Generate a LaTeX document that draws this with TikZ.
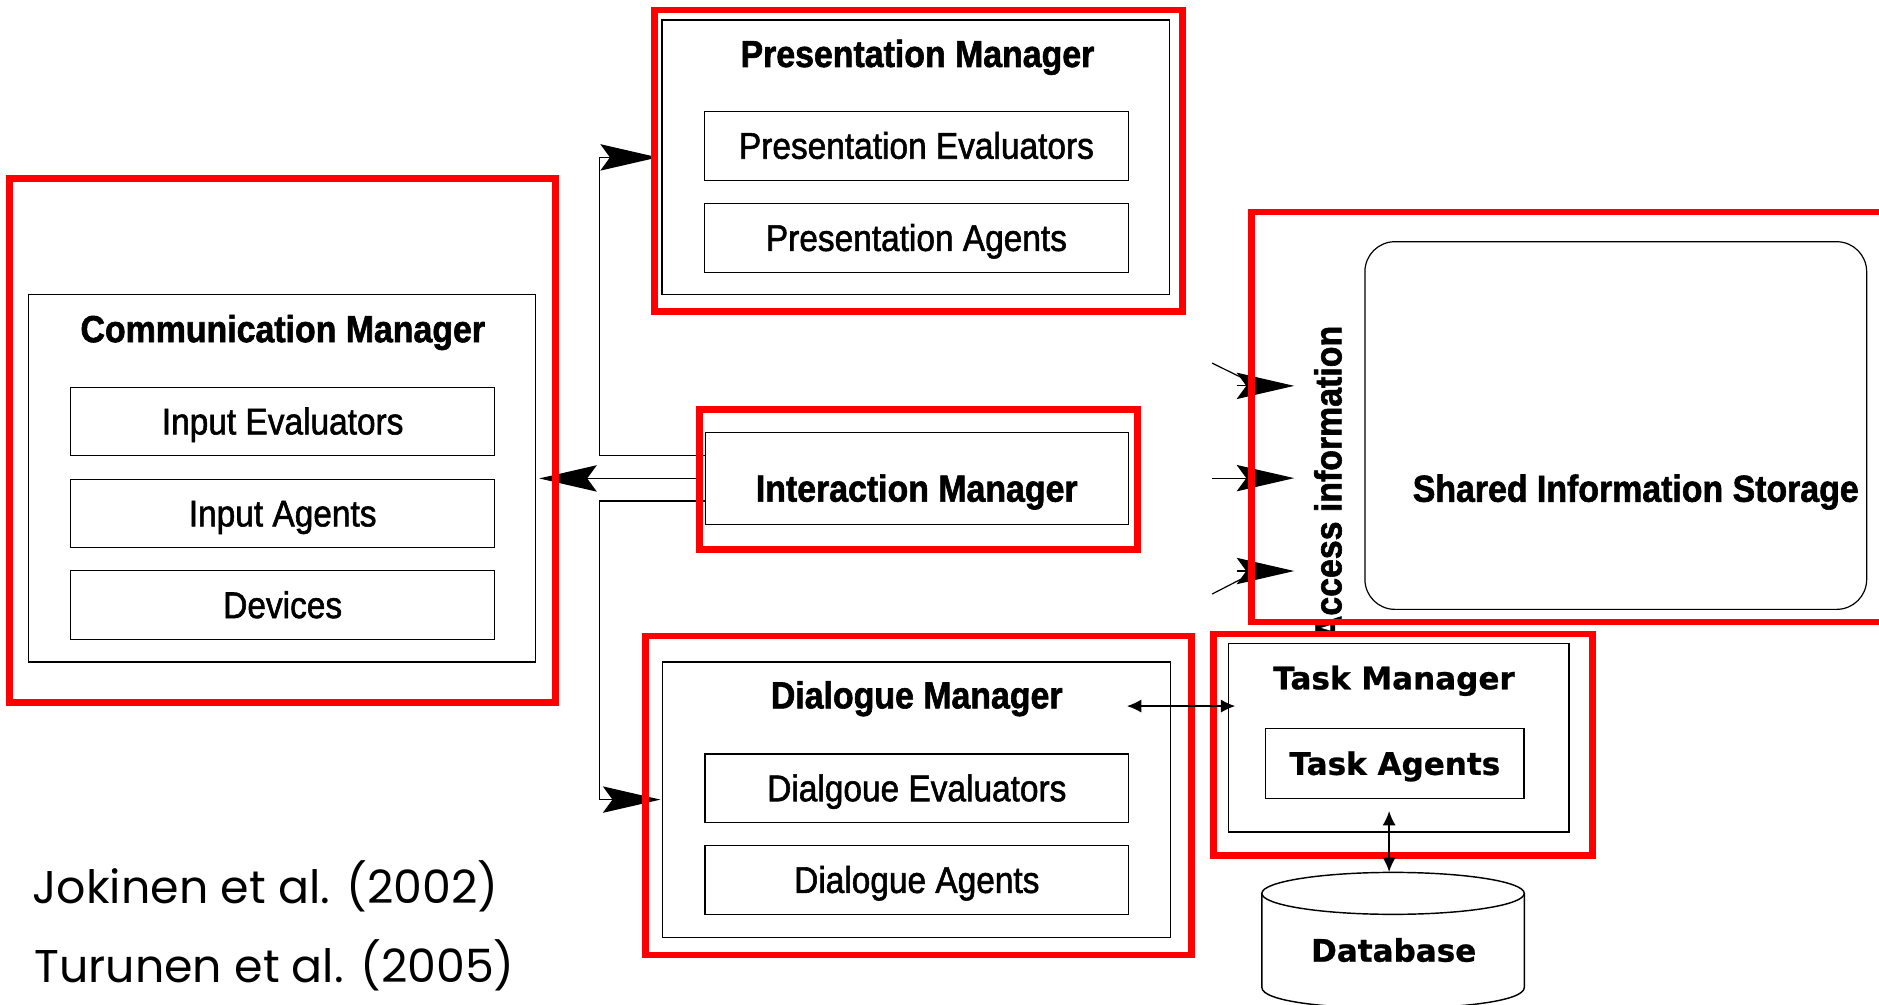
\documentclass[tikz,border=0pt]{standalone}
\usepackage{fontspec}
\setmainfont{Liberation Sans}
\newfontfamily\titlefont[FakeStretch=0.9,FakeBold=1.6]{Liberation Sans}
\newfontfamily\subfont[FakeStretch=0.9,FakeBold=1.5]{Liberation Sans}
\newfontfamily\tmfont[FakeBold=0.8]{DejaVu Sans}
\newfontfamily\citefont{Poppins}
\usetikzlibrary{arrows.meta,calc}
\begin{document}
\begin{tikzpicture}[x=1pt,y=-1pt,
  redframe/.style={draw=red, line width=5.6pt, inner sep=0pt, outer sep=0pt},
  blackbox/.style={draw=black, line width=1pt, inner sep=0pt, outer sep=0pt},
  subbox/.style={blackbox, minimum width=353.6pt, minimum height=57.3pt,
     font=\subfont\fontsize{31}{34}\selectfont, text height=21.5pt, text depth=0pt},
  titletext/.style={anchor=base, inner sep=0pt, font=\titlefont\bfseries\fontsize{31.4}{34}\selectfont},
  tmtext/.style={inner sep=0pt, font=\tmfont\bfseries\fontsize{25.9}{30}\selectfont},
  conn/.style={draw=black, line width=1pt},
  bigarr/.style={draw=black, line width=1pt, -{Stealth[length=48pt,width=22pt,inset=8pt]}},
  smallarr/.style={draw=black, line width=1.3pt, {Latex[length=12pt,width=11pt]}-{Latex[length=12pt,width=11pt]}},
  cite/.style={anchor=base west, inner sep=0pt, font=\citefont\fontsize{38.3}{44}\selectfont}]
\useasboundingbox (0,0) rectangle (1568,838);

% Access information text (partly hidden by Task Manager box)
\node[titletext, rotate=90] (access) at (1119.4,403) {Access information};
\fill[white] (1009.8,526.3) rectangle (1331.6,716.6);

% ---- black boxes
% Communication manager
\node[blackbox, minimum width=423pt, minimum height=306.5pt] (cmin) at (235.5,399.25) {};
\node[titletext] (cmt) at (236,285.5) {Communication Manager};
\node[subbox, minimum width=353.8pt] (ie) at (235.9,351.75) {Input Evaluators};
\node[subbox, minimum width=353.8pt] (ia) at (235.9,428.5) {Input Agents};
\node[subbox, minimum width=353.8pt] (dev) at (235.9,505) {Devices};
% Presentation manager
\node[blackbox, minimum width=423.5pt, minimum height=229.3pt] (pmin) at (764.25,131.35) {};
\node[titletext] (pmt) at (765.6,55.9) {Presentation Manager};
\node[subbox] (pe) at (764.75,121.7) {Presentation Evaluators};
\node[subbox] (pa) at (764.75,198.65) {Presentation Agents};
% Interaction manager
\node[blackbox, minimum width=353pt, minimum height=77.2pt] (imin) at (765,399.2) {};
\node[titletext] (imt) at (765,418.6) {Interaction Manager};
% Dialogue manager
\node[blackbox, minimum width=424.3pt, minimum height=229.5pt] (dmin) at (764.75,667.25) {};
\node[titletext] (dmt) at (765,591.1) {Dialogue Manager};
\node[subbox] (de) at (765.1,657.85) {Dialgoue Evaluators};
\node[subbox] (da) at (765.1,734.35) {Dialogue Agents};
% Shared information storage
\node[blackbox, rounded corners=25pt, minimum width=418.7pt, minimum height=306.8pt] (sis) at (1348.35,355.1) {};
\node[titletext] (sist) at (1365,418.7) {Shared Information Storage};
% Task manager
\node[blackbox, minimum width=284.3pt, minimum height=157.4pt] (tmin) at (1167.15,615.6) {};
\node[tmtext, anchor=base] (tmt) at (1163.3,575.2) {Task Manager};
\node[blackbox, minimum width=215.6pt, minimum height=58.1pt, tmtext, text height=18.9pt, text depth=0pt] (ta) at (1164,637.15) {Task Agents};
% Database
\draw[line width=1.2pt, fill=white] (1053,745.5) -- (1053,824) .. controls (1053,847.3) and (1272,847.3) .. (1272,824) -- (1272,745.5);
\draw[line width=1.2pt] (1162.5,745.5) ellipse [x radius=109.5, y radius=17.5];
\node[tmtext, anchor=base] (db) at (1163,802.5) {Database};
\coordinate (dbtop) at (1159.2,727.6);
\coordinate (taport) at (1159.2,676.8);

% connectors from the interaction manager
\node[redframe, minimum width=365.6pt, minimum height=116.3pt] (imred) at (766.5,400.15) {};
\draw[bigarr] (imin.west |- 0,380) -- (500,380) |- ([xshift=-3.5pt]pmin.west);
\draw[bigarr] (imred.west |- cmin.east) -- ([xshift=3pt]cmin.east);
\draw[bigarr] (imin.west |- 0,418) -- (500,418) |- ([xshift=-1.5pt]dmin.west);

% access arrows
\coordinate (s1) at (1011.5,303);
\coordinate (n1) at (1043,318.5);
\coordinate (b1) at (1032,322);
\coordinate (t1) at (1080,322);
\coordinate (s2) at (1011.5,399);
\coordinate (t2) at (1080,399);
\coordinate (s3) at (1011.5,495.7);
\coordinate (n3) at (1043,479.5);
\coordinate (b3) at (1032,476.5);
\coordinate (t3) at (1080,476.5);
\draw[conn] (s1) -- (n1);
\draw[bigarr] (b1) -- (t1);
\draw[bigarr] (s2) -- (t2);
\draw[conn] (s3) -- (n3);
\draw[bigarr] (b3) -- (t3);

% red frames
\node[redframe, minimum width=455.5pt, minimum height=437.5pt] (cmred) at (235.75,367.75) {};
\node[redframe, minimum width=441pt, minimum height=251.7pt] (pmred) at (766.5,134.15) {};
\node[redframe, minimum width=365.6pt, minimum height=116.3pt] at (766.5,400.15) {};
\node[redframe, minimum width=455.6pt, minimum height=266.3pt] (dmred) at (766.5,663.85) {};
\node[redframe, minimum width=555.5pt, minimum height=342pt] (sisred) at (1322.25,348) {};
\node[redframe, minimum width=316.2pt, minimum height=184.8pt] (tmred) at (1170.7,621.4) {};

% small double arrows
\coordinate (dmport) at (940.4,589.2);
\draw[smallarr] (dmport) -- ([xshift=5.8pt]tmin.west |- dmport);
\draw[smallarr] (taport) -- (dbtop);

% citations
\node[cite] (cit1) at (27,753.6) {Jokinen et al. (2002)};
\node[cite] (cit2) at (28.5,819.5) {Turunen et al. (2005)};
\end{tikzpicture}
\end{document}
